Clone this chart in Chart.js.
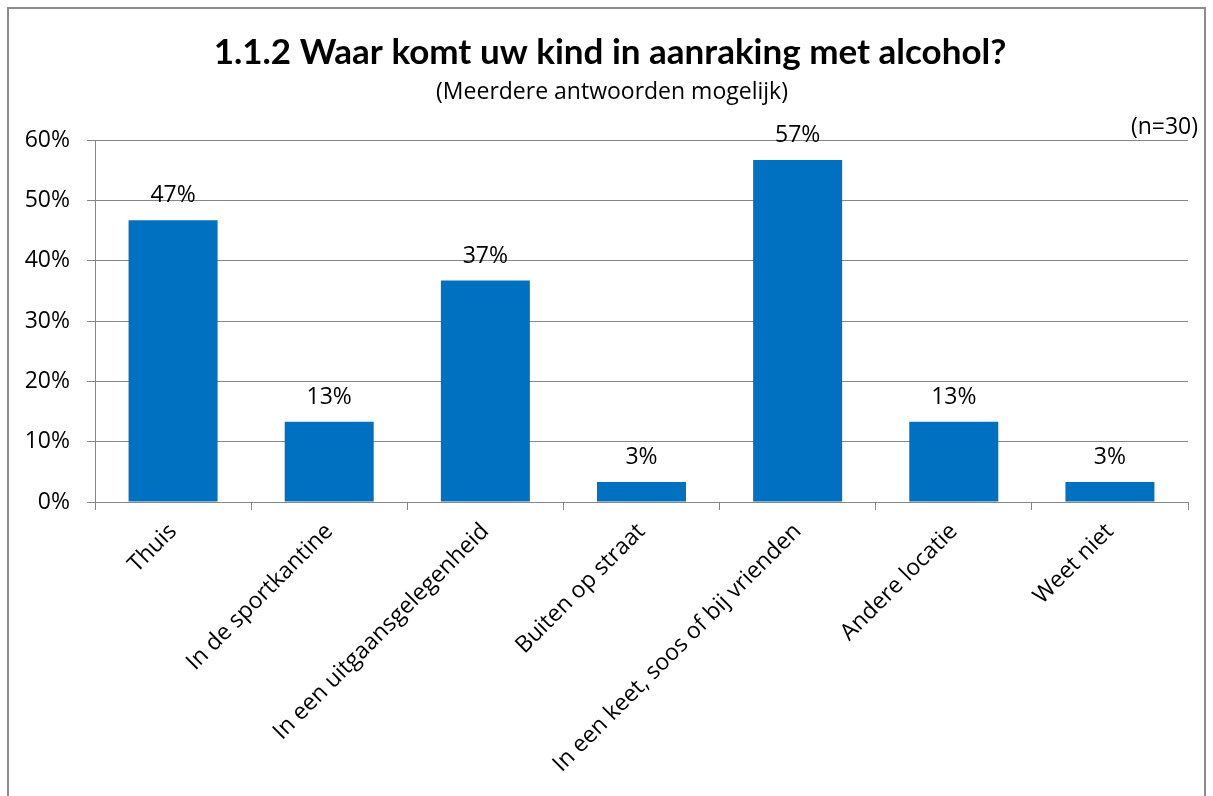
<!DOCTYPE html>
<html><head><meta charset="utf-8">
<script src="https://cdn.jsdelivr.net/npm/chart.js@4/dist/chart.umd.min.js"></script>
<style>html,body{margin:0;padding:0;background:#fff}#wrap{width:1213px;height:796px;position:relative}</style>
</head><body><div id="wrap"><canvas id="c" width="1213" height="796"></canvas></div>
<script>
const categories = ['Thuis','In de sportkantine','In een uitgaansgelegenheid','Buiten op straat','In een keet, soos of bij vrienden','Andere locatie','Weet niet'];
const values = [46.7, 13.3, 36.7, 3.3, 56.7, 13.3, 3.3];
const valueLabels = ['47%','13%','37%','3%','57%','13%','3%'];
const yTicks = [0, 10, 20, 30, 40, 50, 60];
const titleText = '1.1.2 Waar komt uw kind in aanraking met alcohol?';
const subtitleText = '(Meerdere antwoorden mogelijk)';
const nText = '(n=30)';

const FONT = '"Open Sans", sans-serif';
const TFONT = 'Lato, "Open Sans", sans-serif';
const GRID = '#868686';

const decor = {
  id: 'decor',
  beforeDraw(chart) {
    const ctx = chart.ctx;
    ctx.save();
    ctx.fillStyle = '#fff';
    ctx.fillRect(0, 0, chart.width, chart.height);
    ctx.strokeStyle = '#8c8c8c';
    ctx.lineWidth = 2;
    ctx.strokeRect(8, 8, 1197, 820);
    ctx.restore();
  },
  afterDraw(chart) {
    const ctx = chart.ctx;
    ctx.save();
    ctx.fillStyle = '#000';
    ctx.textAlign = 'center';
    ctx.textBaseline = 'alphabetic';
    ctx.font = 'bold 35px ' + TFONT;
    ctx.fillText(titleText, 610, 64);
    ctx.font = '23px ' + FONT;
    ctx.fillText(subtitleText, 612, 99);
    ctx.textAlign = 'right';
    ctx.fillText(nText, 1198, 134);
    ctx.restore();
  },
  afterDatasetsDraw(chart) {
    const ctx = chart.ctx;
    const meta = chart.getDatasetMeta(0);
    ctx.save();
    ctx.fillStyle = '#000';
    ctx.font = '23px ' + FONT;
    ctx.textAlign = 'center';
    ctx.textBaseline = 'alphabetic';
    meta.data.forEach((bar, i) => {
      ctx.fillText(valueLabels[i], bar.x, bar.y - 18);
    });
    ctx.restore();
  }
};

new Chart(document.getElementById('c'), {
  type: 'bar',
  data: {
    labels: categories,
    datasets: [{
      data: values,
      backgroundColor: '#0070C0',
      borderWidth: 0,
      categoryPercentage: 1,
      barPercentage: 0.57
    }]
  },
  options: {
    responsive: false,
    animation: false,
    devicePixelRatio: 1,
    layout: { padding: { left: 8, right: 25, top: 140, bottom: 0 } },
    plugins: { legend: { display: false }, tooltip: { enabled: false }, title: { display: false } },
    scales: {
      y: {
        min: 0, max: 60,
        afterFit(s) { s.width = 87; },
        afterBuildTicks(s) { s.ticks = yTicks.map(v => ({ value: v })); },
        ticks: { callback: v => v + '%', font: { family: FONT, size: 23 }, color: '#000', padding: 17 },
        grid: { color: GRID, lineWidth: 1, tickLength: 8, drawTicks: true },
        border: { color: GRID, width: 1 }
      },
      x: {
        afterFit(s) { s.height = 294; },
        ticks: { font: { family: FONT, size: 23 }, color: '#000', minRotation: 45, maxRotation: 45, padding: 8, autoSkip: false },
        grid: { drawOnChartArea: false, drawTicks: true, tickLength: 8, color: GRID, offset: true },
        border: { color: GRID, width: 1 }
      }
    }
  },
  plugins: [decor]
});
</script>
</body></html>
